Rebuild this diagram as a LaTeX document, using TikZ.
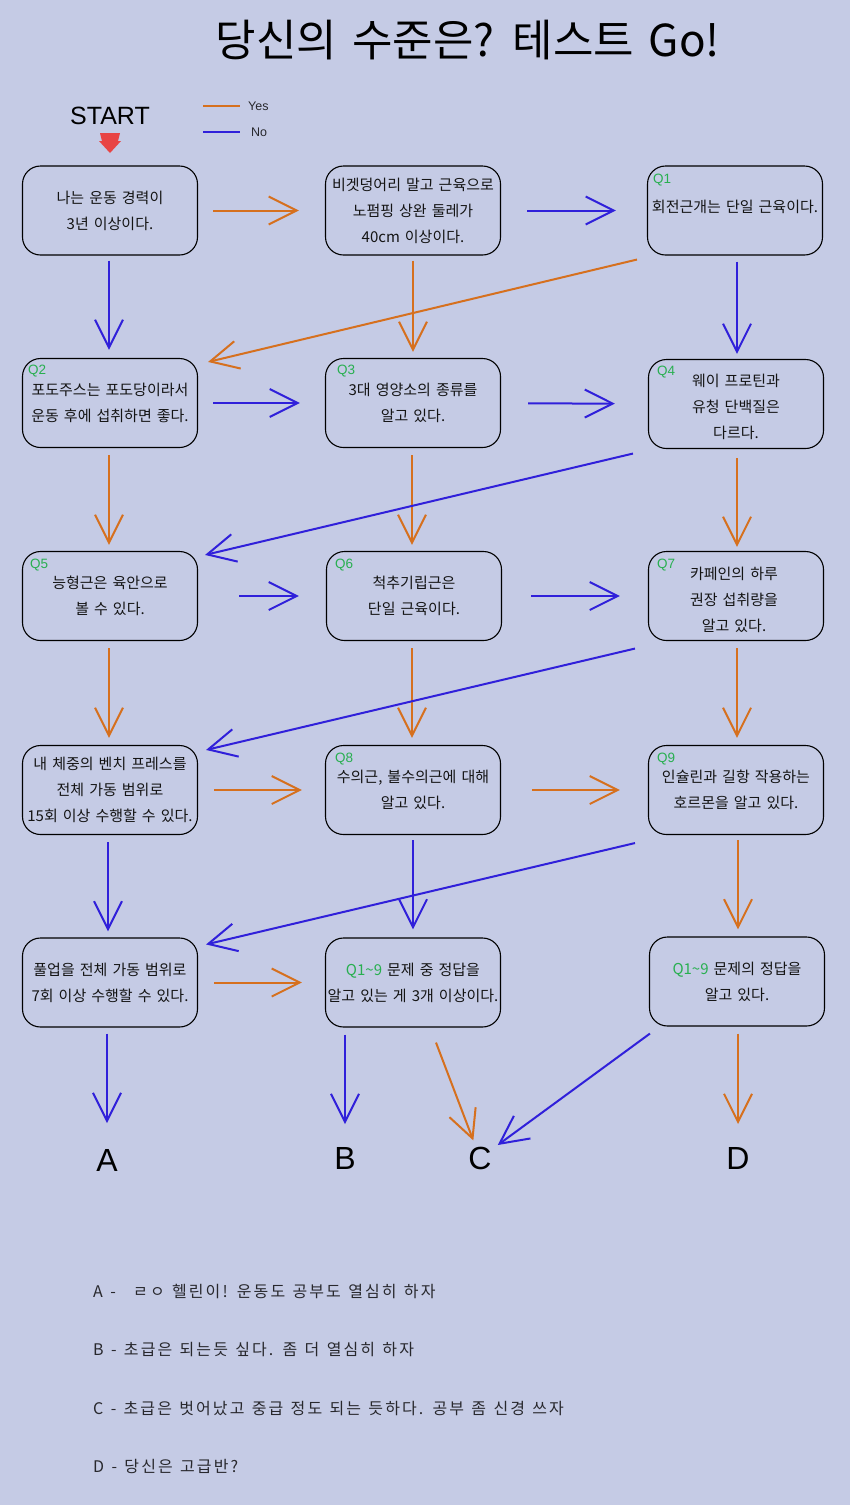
\documentclass[tikz,border=0pt]{standalone}
\usepackage{fontspec}
\setmainfont{Noto Sans CJK KR}[WordSpace=1.5]
\newfontfamily\lat{Liberation Sans}
\newfontfamily\footfont{Noto Sans CJK KR}[LetterSpace=13,WordSpace=1.3]
\usetikzlibrary{arrows.meta,calc}
\definecolor{bgc}{RGB}{197,203,229}
\definecolor{oc}{RGB}{214,112,30}
\definecolor{bc}{RGB}{48,32,218}
\definecolor{gc}{RGB}{40,175,80}
\definecolor{tc}{RGB}{20,20,20}
\definecolor{fc}{RGB}{40,40,45}
\definecolor{startred}{RGB}{232,68,68}
\tikzset{
  box/.style={draw=black, line width=1.1pt, rounded corners=18pt, minimum width=175pt,
    minimum height=89pt, align=center, text=tc, inner sep=0pt,
    font=\fontsize{15pt}{26pt}\selectfont},
  boxtext/.style={align=center, text=tc, inner sep=0pt, font=\fontsize{15pt}{26pt}\selectfont},
  qlab/.style={anchor=west, text=gc, inner sep=0pt, font=\lat\fontsize{13.5pt}{15pt}\selectfont},
  oarr/.style={draw=oc, line width=2pt, -{Straight Barb[length=28pt,width=28pt]}},
  barr/.style={draw=bc, line width=2pt, -{Straight Barb[length=28pt,width=28pt]}},
  sh/.style 2 args={shorten <=#1pt, shorten >=#2pt},
  res/.style={text=black, inner sep=6pt, font=\lat\fontsize{32pt}{36pt}\selectfont},
  footline/.style={anchor=west, text=fc, inner sep=0pt, font=\footfont\fontsize{16pt}{18pt}\selectfont},
  legtext/.style={anchor=west, text=fc, inner sep=0pt, font=\lat\fontsize{12.5pt}{14pt}\selectfont}
}
\begin{document}
\begin{tikzpicture}[x=1pt,y=-1pt]
\path[fill=bgc,use as bounding box] (0,0) rectangle (850,1505);

% title
\node[text=black, font=\fontsize{44pt}{48pt}\selectfont] (title) at (468,40) {당신의 수준은? 테스트 Go!};

% start + legend
\node[text=black, inner sep=0pt, font=\lat\fontsize{25pt}{28pt}\selectfont] (start) at (110,116) {START};
\fill[startred] (100,133) -- (120,133) -- (118,141) -- (121,141) -- (110,153) -- (99,141) -- (102,141) -- cycle;
\coordinate (ly1) at (203,106); \coordinate (ly2) at (240,106);
\coordinate (ln1) at (203,132); \coordinate (ln2) at (240,132);
\draw[oc, line width=2pt] (ly1) -- (ly2);
\draw[bc, line width=2pt] (ln1) -- (ln2);
\node[legtext] (yes) at (248,106) {Yes};
\node[legtext] (no) at (251,132) {No};

% row 1
\node[box] (b1) at (110,210.5) {나는 운동 경력이\\3년 이상이다.};
\node[box] (b2) at (413,210.5) {비겟덩어리 말고 근육으로\\노펌핑 상완 둘레가\\40cm 이상이다.};
\node[box] (q1) at (735,210.5) {회전근개는 단일 근육이다.\\[-17pt]};
\node[qlab] at ($(q1.north west)+(6,15)$) {Q1};

% row 2
\node[box] (q2) at (110,403) {포도주스는 포도당이라서\\운동 후에 섭취하면 좋다.};
\node[qlab] at ($(q2.north west)+(6,13)$) {Q2};
\node[box] (q3) at (413,403) {3대 영양소의 종류를\\알고 있다.};
\node[qlab] at ($(q3.north west)+(12,13)$) {Q3};
\node[box] (q4) at (736,404) {};
\node[boxtext] (q4t) at (736,407) {웨이 프로틴과\\유청 단백질은\\다르다.};
\node[qlab] at ($(q4.north west)+(9,13)$) {Q4};

% row 3
\node[box] (q5) at (110,596) {능형근은 육안으로\\볼 수 있다.};
\node[qlab] at ($(q5.north west)+(8,14)$) {Q5};
\node[box] (q6) at (414,596) {척추기립근은\\단일 근육이다.};
\node[qlab] at ($(q6.north west)+(9,14)$) {Q6};
\node[box] (q7) at (736,596) {};
\node[boxtext] (q7t) at (734,600) {카페인의 하루\\권장 섭취량을\\알고 있다.};
\node[qlab] at ($(q7.north west)+(9,14)$) {Q7};

% row 4
\node[box] (r4a) at (110,790) {내 체중의 벤치 프레스를\\전체 가동 범위로\\15회 이상 수행할 수 있다.};
\node[box] (q8) at (413,790) {수의근, 불수의근에 대해\\알고 있다.};
\node[qlab] at ($(q8.north west)+(10,14)$) {Q8};
\node[box] (q9) at (736,790) {인슐린과 길항 작용하는\\호르몬을 알고 있다.};
\node[qlab] at ($(q9.north west)+(9,14)$) {Q9};

% row 5
\node[box] (r5a) at (110,982.5) {풀업을 전체 가동 범위로\\7회 이상 수행할 수 있다.};
\node[box] (r5b) at (413,982.5) {{\color{gc}Q1\textasciitilde9} 문제 중 정답을\\알고 있는 게 3개 이상이다.};
\node[box] (r5c) at (737,981.5) {{\color{gc}Q1\textasciitilde9} 문제의 정답을\\알고 있다.};

% results
\node[res] (A) at (107,1160) {A};
\node[res] (B) at (345,1158) {B};
\node[res] (C) at (480,1158) {C};
\node[res] (D) at (738,1158) {D};

% row 1 connectors
\draw[oarr, sh={15}{26}] (b1) -- (b2);
\draw[barr, sh={26}{31}] (b2) -- (q1);
\draw[barr, sh={5}{8}] ($(b1.south)+(-1,0)$) -- ($(q2.north)+(-1,0)$);
\draw[oarr, sh={5}{6}] (b2.south) -- (q3.north);
\draw[barr, sh={6}{5}] ($(q1.south)+(2,0)$) -- ($(q4.north)+(1,0)$);
\draw[oarr] ($(q1.south west)+(-10,4)$) -- ($(q2.north east)+(10,4)$);

% row 2 connectors
\draw[barr, sh={15}{25}] (q2) -- (q3);
\draw[barr, sh={27}{33}] (q3) -- (q4);
\draw[oarr, sh={7}{6}] ($(q2.south)+(-1,0)$) -- ($(q5.north)+(-1,0)$);
\draw[oarr, sh={7}{6}] ($(q3.south)+(-1,0)$) -- ($(q6.north)+(-2,0)$);
\draw[oarr, sh={9}{4}] ($(q4.south)+(1,0)$) -- ($(q7.north)+(1,0)$);
\draw[barr] ($(q4.south west)+(-15,4.5)$) -- ($(q5.north east)+(7,4)$);

% row 3 connectors
\draw[barr, sh={41}{27}] (q5) -- (q6);
\draw[barr, sh={29}{28}] (q6) -- (q7);
\draw[oarr, sh={7}{7}] ($(q5.south)+(-1,0)$) -- ($(r4a.north)+(-1,0)$);
\draw[oarr, sh={7}{7}] ($(q6.south)+(-2,0)$) -- ($(q8.north)+(-1,0)$);
\draw[oarr, sh={7}{7}] ($(q7.south)+(1,0)$) -- ($(q9.north)+(1,0)$);
\draw[barr] ($(q7.south west)+(-13,7.5)$) -- ($(r4a.north east)+(8,5)$);

% row 4 connectors
\draw[oarr, sh={16}{23}] (r4a) -- (q8);
\draw[oarr, sh={31}{28}] (q8) -- (q9);
\draw[barr, sh={7}{6}] ($(r4a.south)+(-2,0)$) -- ($(r5a.north)+(-2,0)$);
\draw[barr, sh={5}{8}] (q8.south) -- (r5b.north);
\draw[oarr, sh={5}{7}] ($(q9.south)+(2,0)$) -- ($(r5c.north)+(1,0)$);
\draw[barr] ($(q9.south west)+(-13,8)$) -- ($(r5a.north east)+(8,7)$);

% row 5 connectors
\draw[oarr, sh={16}{23}] (r5a) -- (r5b);
\draw[barr, sh={6}{37}] (A |- r5a.south) -- (A.center);
\draw[barr, sh={7}{34}] (B |- r5b.south) -- (B.center);
\draw[oarr, sh={0}{0}] ($(r5b.south)+(23,15)$) -- (C);
\draw[barr] ($(r5c.south west)+(1,7)$) -- (C);
\draw[oarr, sh={7}{34}] (D |- r5c.south) -- (D.center);

% footer
\node[footline] (fa) at (93,1291) {A - \, ㄹㅇ 헬린이! 운동도 공부도 열심히 하자};
\node[footline] (fb) at (93,1349) {B - 초급은 되는듯 싶다. 좀 더 열심히 하자};
\node[footline] (fcc) at (93,1408) {C - 초급은 벗어났고 중급 정도 되는 듯하다. 공부 좀 신경 쓰자};
\node[footline] (fd) at (93,1466) {D - 당신은 고급반?};
\end{tikzpicture}
\end{document}
